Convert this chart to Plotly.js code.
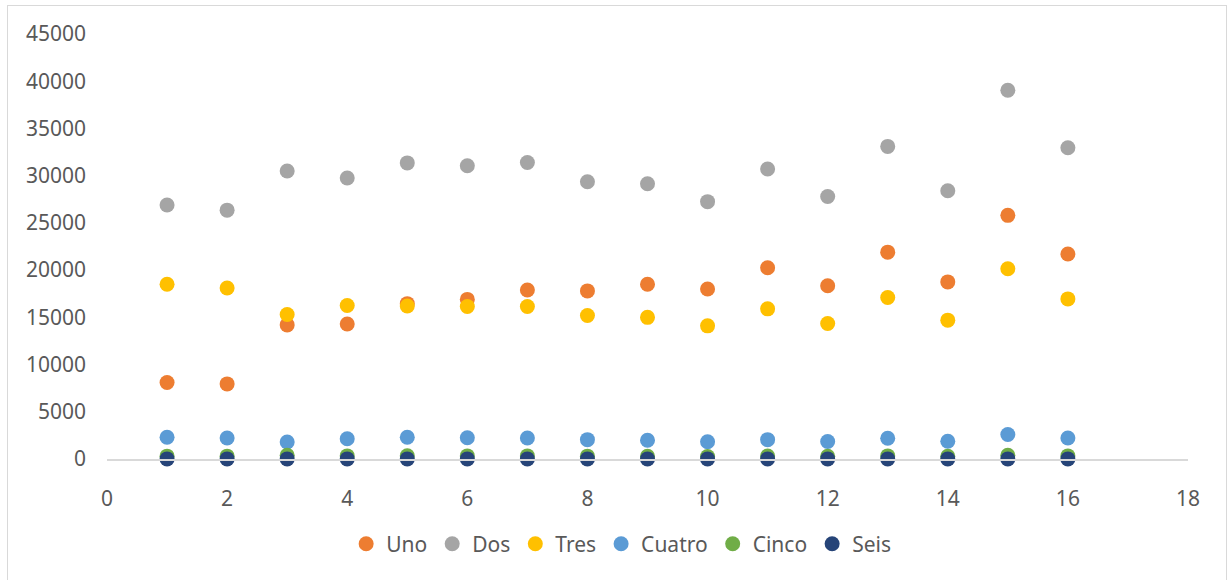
<!DOCTYPE html>
<html>
<head>
<meta charset="utf-8">
<script src="https://cdn.plot.ly/plotly-3.0.1.min.js"></script>
<style>
  html, body { margin: 0; padding: 0; background: #ffffff; }
  #wrap { position: relative; width: 1230px; height: 580px; }
  #chart { position: absolute; left: 0; top: 0; width: 1230px; height: 580px; }
  #frame { position: absolute; left: 7px; top: 5px; width: 1220px; height: 590px;
           border: 1px solid #d9d9d9; box-sizing: border-box; pointer-events: none; }
</style>
</head>
<body>
<div id="wrap">
  <div id="chart"></div>
  <div id="frame"></div>
</div>
<script>
const xValues = [1, 2, 3, 4, 5, 6, 7, 8, 9, 10, 11, 12, 13, 14, 15, 16];
const uno    = [8100, 7950, 14200, 14300, 16450, 16900, 17900, 17800, 18500, 18000, 20250, 18350, 21900, 18750, 25800, 21700];
const dos    = [26900, 26350, 30500, 29750, 31350, 31050, 31400, 29350, 29150, 27250, 30700, 27800, 33100, 28400, 39050, 32950];
const tres   = [18500, 18100, 15300, 16250, 16200, 16150, 16150, 15200, 15000, 14100, 15900, 14350, 17100, 14700, 20150, 16950];
const cuatro = [2300, 2220, 1800, 2150, 2300, 2250, 2220, 2050, 1980, 1820, 2050, 1850, 2200, 1880, 2600, 2220];
const cinco  = [300, 300, 400, 330, 350, 330, 330, 300, 290, 270, 310, 280, 330, 280, 400, 330];
const seis   = [10, 10, 10, 10, 10, 10, 10, 10, 10, 10, 10, 10, 10, 10, 10, 10];

const seriesNames = ['Uno', 'Dos', 'Tres', 'Cuatro', 'Cinco', 'Seis'];
const seriesData = [uno, dos, tres, cuatro, cinco, seis];
const seriesColors = ['#ED7D31', '#A5A5A5', '#FFC000', '#5B9BD5', '#70AD47', '#264478'];

const traces = seriesNames.map((name, i) => ({
  type: 'scatter',
  mode: 'markers',
  name: name,
  x: xValues,
  y: seriesData[i],
  cliponaxis: false,
  marker: { color: seriesColors[i], size: 15, line: { width: 0 } },
  hoverinfo: 'x+y+name'
}));

const font = { family: '"Noto Sans", "Open Sans", sans-serif', size: 21, color: '#595959' };

const layout = {
  width: 1230,
  height: 580,
  paper_bgcolor: '#ffffff',
  plot_bgcolor: '#ffffff',
  font: font,
  showlegend: true,
  margin: { l: 107, r: 42, t: 34, b: 121, pad: 0 },
  xaxis: {
    range: [0, 18],
    dtick: 2,
    tick0: 0,
    showgrid: false,
    zeroline: false,
    showline: true,
    linecolor: '#d9d9d9',
    linewidth: 2,
    ticks: '',
    ticklabelstandoff: 20,
    tickfont: font,
    fixedrange: true
  },
  yaxis: {
    range: [0, 45000],
    dtick: 5000,
    tick0: 0,
    tickformat: 'd',
    showgrid: false,
    zeroline: false,
    showline: false,
    ticks: '',
    ticklabelstandoff: 20,
    tickfont: font,
    fixedrange: true
  },
  legend: {
    orientation: 'h',
    xref: 'container',
    yref: 'container',
    x: 0.505,
    xanchor: 'center',
    y: 0.062,
    yanchor: 'middle',
    font: font,
    itemwidth: 30,
    tracegroupgap: 0,
    bgcolor: 'rgba(0,0,0,0)'
  }
};

Plotly.newPlot('chart', traces, layout, { displayModeBar: false, staticPlot: true });
</script>
</body>
</html>
